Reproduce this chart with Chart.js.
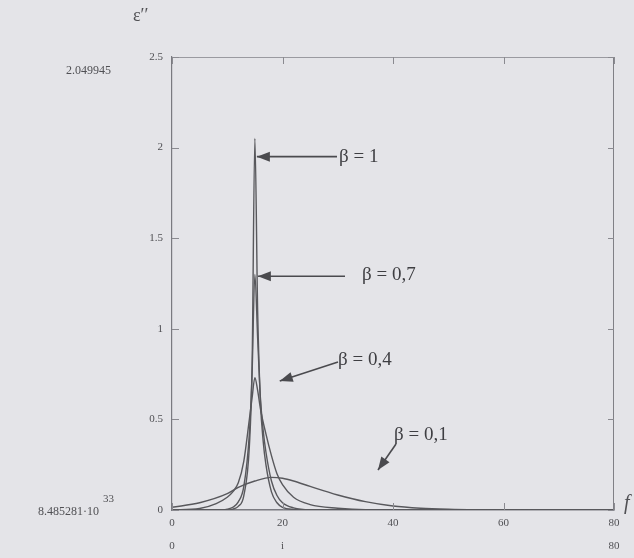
<!DOCTYPE html>
<html>
<head>
<meta charset="utf-8">
<script src="https://cdn.jsdelivr.net/npm/chart.js@4/dist/chart.umd.min.js"></script>
<style>
  html,body{margin:0;padding:0;background:#e4e4e8;}
  #wrap{width:634px;height:558px;position:relative;}
</style>
</head>
<body>
<div id="wrap"><canvas id="c" width="634" height="558"></canvas></div>
<script>
// ---- data ----
const fBeta1  = [0, 10, 11, 12, 13, 14, 14.5, 15, 15.5, 16, 16.5, 17, 18, 19, 20, 22, 25, 80];
const eBeta1  = [0, 0, 0.005, 0.02, 0.08, 0.35, 0.8, 2.05, 1.1, 0.6, 0.38, 0.25, 0.1, 0.04, 0.015, 0.003, 0, 0];

const fBeta07 = [0, 9, 10, 11, 12, 13, 14, 14.5, 15, 15.5, 16, 16.5, 17, 18, 19, 20, 22, 25, 80];
const eBeta07 = [0, 0, 0.005, 0.015, 0.045, 0.13, 0.42, 0.76, 1.3, 0.95, 0.62, 0.44, 0.32, 0.16, 0.08, 0.04, 0.012, 0.002, 0];

const fBeta04 = [0, 5, 8, 10, 11, 12, 13, 14, 14.5, 15, 15.5, 16, 17, 18, 19, 20, 22, 25, 30, 35, 80];
const eBeta04 = [0, 0.008, 0.035, 0.07, 0.1, 0.15, 0.27, 0.5, 0.62, 0.73, 0.66, 0.56, 0.42, 0.3, 0.2, 0.14, 0.07, 0.03, 0.01, 0.002, 0];

const fBeta01 = [0, 5, 10, 12, 15, 18, 20, 22, 25, 30, 35, 40, 45, 50, 55, 60, 80];
const eBeta01 = [0.015, 0.04, 0.09, 0.125, 0.16, 0.18, 0.175, 0.16, 0.13, 0.083, 0.046, 0.022, 0.01, 0.004, 0.001, 0, 0];

const yTicks = [0, 0.5, 1, 1.5, 2, 2.5];
const yTickLabels = ['0', '0.5', '1', '1.5', '2', '2.5'];
const xTicks = [0, 20, 40, 60, 80];
const xTickLabels = ['0', '20', '40', '60', '80'];
const betaLabels = ['β = 1', 'β = 0,7', 'β = 0,4', 'β = 0,1'];

// ---- helpers ----
const toPts = (xs, ys) => xs.map((x, i) => ({x: x, y: ys[i]}));
const ink = '#58585c';
const serif = '"Liberation Serif","DejaVu Serif",serif';

const ds = (xs, ys) => ({
  data: toPts(xs, ys),
  showLine: true,
  borderColor: ink,
  borderWidth: 1.4,
  pointRadius: 0,
  cubicInterpolationMode: 'monotone',
  fill: false
});

const annot = {
  id: 'annot',
  afterDatasetsDraw(chart) {
    const {ctx, chartArea: a, scales: {x, y}} = chart;
    ctx.save();
    // top & right frame
    ctx.strokeStyle = '#9a9aa0';
    ctx.lineWidth = 1;
    ctx.beginPath();
    ctx.moveTo(a.left, a.top + 0.5); ctx.lineTo(a.right, a.top + 0.5);
    ctx.stroke();
    ctx.strokeStyle = '#808086';
    ctx.beginPath();
    ctx.moveTo(a.right - 0.5, a.top); ctx.lineTo(a.right - 0.5, a.bottom);
    ctx.stroke();
    // inner tick marks
    ctx.strokeStyle = '#8a8a90';
    ctx.beginPath();
    yTicks.forEach(v => {
      const py = Math.round(y.getPixelForValue(v)) + 0.5;
      ctx.moveTo(a.left, py); ctx.lineTo(a.left + 7, py);
      ctx.moveTo(a.right, py); ctx.lineTo(a.right - 6, py);
    });
    xTicks.forEach(v => {
      const px = Math.round(x.getPixelForValue(v)) + 0.5;
      ctx.moveTo(px, a.bottom); ctx.lineTo(px, a.bottom - 7);
      ctx.moveTo(px, a.top); ctx.lineTo(px, a.top + 7);
    });
    ctx.stroke();

    // arrows
    ctx.strokeStyle = '#4a4a4e';
    ctx.fillStyle = '#4a4a4e';
    ctx.lineWidth = 1.6;
    const arrow = (x1, y1, x2, y2) => {
      ctx.beginPath(); ctx.moveTo(x1, y1); ctx.lineTo(x2, y2); ctx.stroke();
      const ang = Math.atan2(y2 - y1, x2 - x1);
      const L = 13, W = 5;
      ctx.beginPath();
      ctx.moveTo(x2, y2);
      ctx.lineTo(x2 - L * Math.cos(ang) + W * Math.sin(ang), y2 - L * Math.sin(ang) - W * Math.cos(ang));
      ctx.lineTo(x2 - L * Math.cos(ang) - W * Math.sin(ang), y2 - L * Math.sin(ang) + W * Math.cos(ang));
      ctx.closePath(); ctx.fill();
    };
    const px15 = x.getPixelForValue(15);
    arrow(337, y.getPixelForValue(1.95), px15 + 2, y.getPixelForValue(1.95));
    arrow(345, y.getPixelForValue(1.29), px15 + 3, y.getPixelForValue(1.29));
    arrow(338, 362, x.getPixelForValue(19.5), 381);
    arrow(396, 444, 378, 470);

    // beta labels
    ctx.fillStyle = '#3e3e42';
    ctx.font = '19px ' + serif;
    ctx.textBaseline = 'middle';
    ctx.textAlign = 'left';
    ctx.fillText(betaLabels[0], 339, y.getPixelForValue(1.95));
    ctx.fillText(betaLabels[1], 362, y.getPixelForValue(1.29) - 1);
    ctx.fillText(betaLabels[2], 338, 360);
    ctx.fillText(betaLabels[3], 394, 435);

    // axis name and extreme values
    ctx.fillStyle = '#505054';
    ctx.font = '18px ' + serif;
    ctx.fillText('ε′′', 133, 16);
    ctx.font = 'italic 20px ' + serif;
    ctx.fillText('f', 624, 504);
    ctx.font = '12px ' + serif;
    ctx.textAlign = 'right';
    ctx.fillText('2.049945', 111, 71);
    ctx.fillText('8.485281·10', 99, 512);
    ctx.textAlign = 'left';
    ctx.font = '11px ' + serif;
    ctx.fillText('33', 103, 499);
    ctx.font = '11px ' + serif;
    ctx.textAlign = 'center';
    ctx.fillText('0', x.getPixelForValue(0), 546);
    ctx.fillText('i', x.getPixelForValue(20), 546);
    ctx.fillText('80', x.getPixelForValue(80), 546);
    ctx.restore();
  }
};

new Chart(document.getElementById('c'), {
  type: 'scatter',
  data: {
    datasets: [
      ds(fBeta1, eBeta1),
      ds(fBeta07, eBeta07),
      ds(fBeta04, eBeta04),
      ds(fBeta01, eBeta01)
    ]
  },
  options: {
    responsive: false,
    animation: false,
    layout: {padding: {top: 57, right: 20, bottom: 18, left: 0}},
    plugins: {legend: {display: false}, tooltip: {enabled: false}},
    scales: {
      x: {
        type: 'linear', min: 0, max: 80,
        afterFit(s) { s.height = 30; },
        afterBuildTicks(s) { s.ticks = xTicks.map(v => ({value: v})); },
        grid: {display: true, drawOnChartArea: false, drawTicks: false},
        border: {display: true, color: '#7a7a80', width: 1.5},
        ticks: {padding: 7, color: '#505054', font: {family: serif, size: 11},
                callback: (v, i) => xTickLabels[i]}
      },
      y: {
        type: 'linear', min: 0, max: 2.5,
        afterFit(s) { s.width = 172; },
        afterBuildTicks(s) { s.ticks = yTicks.map(v => ({value: v})); },
        grid: {display: true, drawOnChartArea: false, drawTicks: false},
        border: {display: true, color: '#7a7a80', width: 1.2},
        ticks: {padding: 9, color: '#505054', font: {family: serif, size: 11},
                callback: (v, i) => yTickLabels[i]}
      }
    }
  },
  plugins: [annot]
});
</script>
</body>
</html>
